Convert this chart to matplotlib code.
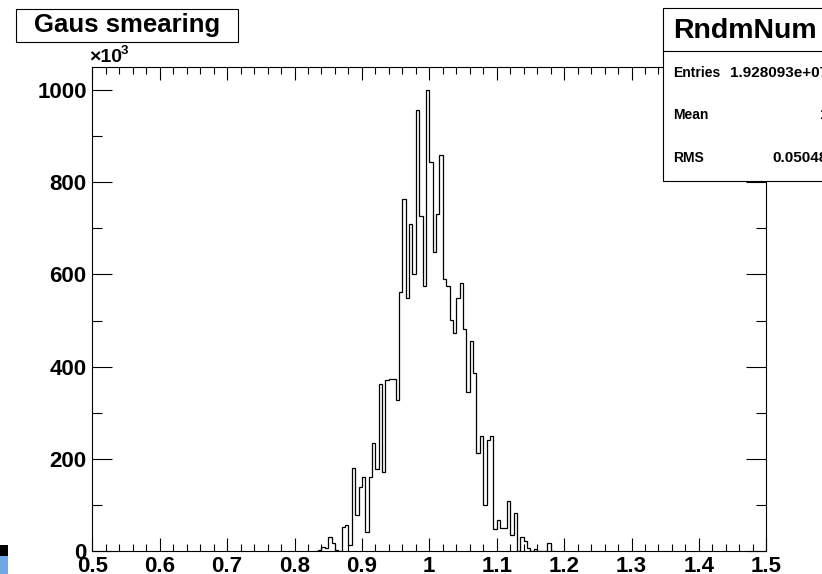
# gaus_smearing.py  -- redraw of the ROOT "Gaus smearing" histogram

import numpy as np
import matplotlib
matplotlib.use("Agg")
import matplotlib.pyplot as plt
from matplotlib.patches import Rectangle
from matplotlib.lines import Line2D
from matplotlib.ticker import FixedLocator, MultipleLocator

#==================================================================================================================
# data (bin content in units of 10^3, bins of 0.005 starting at 0.83)

bin_width = 0.005
first_edge = 0.83
counts = [0, 2, 8, 6, 30, 16, 2, 0, 52, 56, 12, 180, 77, 138, 159, 41, 159, 235, 178, 363,
          172, 371, 372, 373, 327, 562, 764, 548, 709, 602, 958, 727, 575, 1001, 844, 648,
          731, 859, 590, 574, 502, 472, 548, 582, 481, 345, 456, 385, 212, 250, 99, 240,
          250, 48, 66, 49, 50, 107, 35, 82, 0, 30, 22, 5, 0, 3, 0, 0, 0, 16, 0]

x_ticks = [0.5, 0.6, 0.7, 0.8, 0.9, 1.0, 1.1, 1.2, 1.3, 1.4, 1.5]
x_labels = ['0.5', '0.6', '0.7', '0.8', '0.9', '1', '1.1', '1.2', '1.3', '1.4', '1.5']
y_ticks = [0, 200, 400, 600, 800, 1000]
y_labels = ['0', '200', '400', '600', '800', '1000']

title = "Gaus smearing"
stats_name = "RndmNum"
stats_labels = ['Entries', 'Mean', 'RMS']
stats_values = ['1.928093e+07', '1', '0.05048']

#==================================================================================================================

W, H = 822, 574
FONT = 'Liberation Sans'


def fx(x):
    return x / W


def fy(y):
    return 1 - y / H


def draw_hist(ax):
    edges = first_edge + bin_width * np.arange(len(counts) + 1)
    ax.stairs(counts, edges, color='black', lw=0.9)

    ax.set_xlim(0.5, 1.5)
    ax.set_ylim(0, 1050)
    ax.xaxis.set_major_locator(FixedLocator(x_ticks))
    ax.set_xticklabels(x_labels)
    ax.xaxis.set_minor_locator(MultipleLocator(0.02))
    ax.yaxis.set_major_locator(FixedLocator(y_ticks))
    ax.set_yticklabels(y_labels)
    ax.yaxis.set_minor_locator(MultipleLocator(100))

    ax.tick_params(axis='both', which='both', direction='in', top=True, right=True,
                   width=0.8, color='black', labelsize=16)
    ax.tick_params(axis='x', which='major', length=9.5, pad=3.5)
    ax.tick_params(axis='x', which='minor', length=5)
    ax.tick_params(axis='y', which='major', length=14.5, pad=4)
    ax.tick_params(axis='y', which='minor', length=7.5)
    for lab in ax.get_xticklabels() + ax.get_yticklabels():
        lab.set_fontweight('bold')
        lab.set_family(FONT)
    for sp in ax.spines.values():
        sp.set_linewidth(0.8)

    # x10^3 multiplier above the y axis
    ax.figure.text(fx(89), fy(58), u"\u00d710", family=FONT, fontweight='bold',
                   fontsize=14, va='center', ha='left')
    ax.figure.text(fx(121), fy(51), "3", family=FONT, fontweight='bold',
                   fontsize=9.5, va='center', ha='left')


def draw_boxes(fig):
    # title box
    fig.add_artist(Rectangle((fx(16), fy(42)), fx(222), 33.3 / H, transform=fig.transFigure,
                             facecolor='white', edgecolor='black', lw=0.8, zorder=5))
    fig.text(fx(127), fy(25), title, family=FONT, fontweight='bold', fontsize=18.5,
             ha='center', va='center', zorder=6)

    # stats box, runs off the right edge
    fig.add_artist(Rectangle((fx(663), fy(181)), fx(170), 173 / H, transform=fig.transFigure,
                             facecolor='white', edgecolor='black', lw=0.8, zorder=5))
    fig.add_artist(Line2D([fx(663), fx(830)], [fy(51), fy(51)], transform=fig.transFigure,
                          color='black', lw=0.8, zorder=6))
    fig.text(fx(673), fy(31), stats_name, family=FONT, fontweight='bold', fontsize=20.5,
             ha='left', va='center', zorder=7)
    rows_y = [73, 115, 158]
    for lab, val, y in zip(stats_labels, stats_values, rows_y):
        fig.text(fx(673), fy(y), lab, family=FONT, fontweight='bold', fontsize=10,
                 ha='left', va='center', zorder=7)
        fig.text(fx(828), fy(y), val, family=FONT, fontweight='bold', fontsize=11,
                 ha='right', va='center', zorder=7)

    # leftover bits of the screen grab at bottom left
    fig.add_artist(Rectangle((0, fy(556)), fx(8), 11 / H, transform=fig.transFigure,
                             facecolor='black', edgecolor='none', zorder=5))
    fig.add_artist(Rectangle((0, 0), fx(8), 18 / H, transform=fig.transFigure,
                             facecolor='#6fa8e4', edgecolor='none', zorder=5))


def main():
    fig = plt.figure(figsize=(W / 100, H / 100), dpi=100)
    ax = fig.add_axes([fx(92.3), fy(550.7), fx(766.3 - 92.3), (550.7 - 67.3) / H])
    draw_hist(ax)
    draw_boxes(fig)
    fig.savefig("out.png", dpi=100)
    plt.close(fig)


#==================================================================================================================
if __name__ == "__main__":
    main()
